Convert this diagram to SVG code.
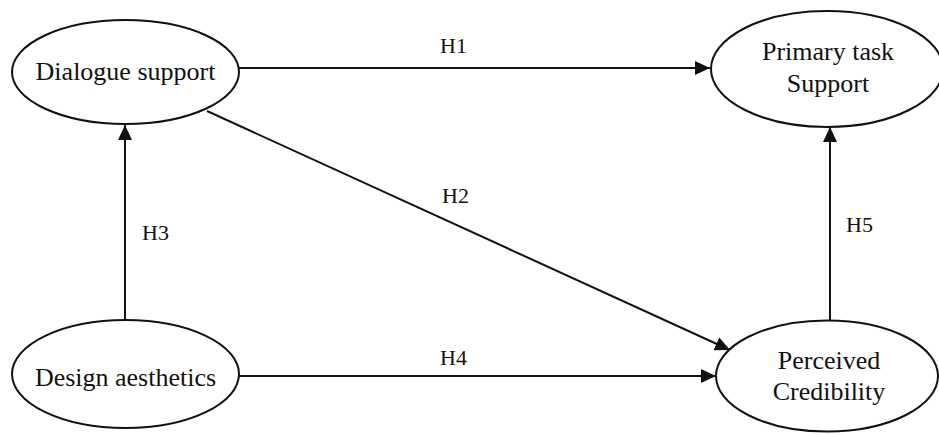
<svg xmlns="http://www.w3.org/2000/svg" width="939" height="435" viewBox="0 0 939 435">
<style>
.node ellipse{fill:#fff;stroke:#111;stroke-width:2}
text{font-family:"Liberation Serif","Times New Roman",serif;fill:#111}
.nt{font-size:26px;text-anchor:middle}
.lbl{font-size:22px}
.edge{stroke:#111;stroke-width:2;fill:none;marker-end:url(#ah)}
</style>
<defs>
<marker id="ah" markerUnits="userSpaceOnUse" markerWidth="16" markerHeight="14" refX="15" refY="7" orient="auto">
<path d="M0,0 L15,7 L0,14 z" fill="#111"/>
</marker>
</defs>
<rect width="939" height="435" fill="#fff"/>
<g id="connectors">
<line class="edge" x1="239" y1="68" x2="710" y2="68"/>
<line class="edge" x1="207" y1="111" x2="730" y2="350"/>
<line class="edge" x1="125" y1="320" x2="125" y2="125"/>
<line class="edge" x1="239" y1="376" x2="716" y2="376"/>
<line class="edge" x1="830" y1="321" x2="830" y2="127"/>
<text class="lbl" x="440" y="53">H1</text>
<text class="lbl" x="442" y="203">H2</text>
<text class="lbl" x="142" y="240">H3</text>
<text class="lbl" x="440" y="365">H4</text>
<text class="lbl" x="846" y="232">H5</text>
</g>
<g id="dialogue" class="node">
<ellipse cx="125.5" cy="72" rx="113.5" ry="52"/>
<text class="nt" x="125.5" y="80">Dialogue support</text>
</g>
<g id="primary" class="node">
<ellipse cx="827" cy="69" rx="116" ry="58"/>
<text class="nt" x="828" y="60">Primary task</text>
<text class="nt" x="828" y="92">Support</text>
</g>
<g id="design" class="node">
<ellipse cx="125.5" cy="374" rx="113.5" ry="54"/>
<text class="nt" x="125.5" y="386">Design aesthetics</text>
</g>
<g id="credibility" class="node">
<ellipse cx="827" cy="376" rx="111" ry="55.5"/>
<text class="nt" x="829" y="369">Perceived</text>
<text class="nt" x="829" y="400">Credibility</text>
</g>
</svg>
